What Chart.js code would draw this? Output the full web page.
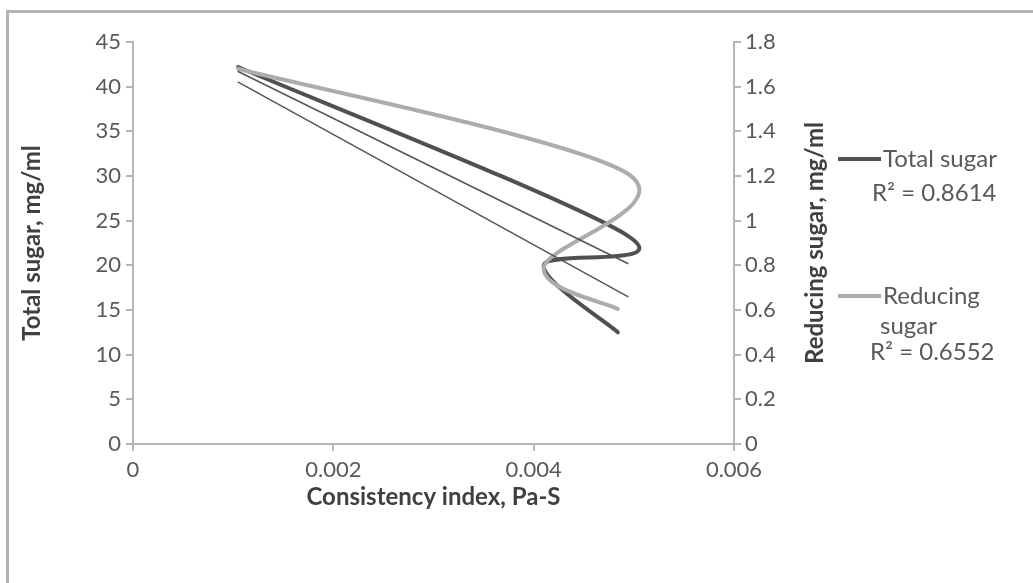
<!DOCTYPE html>
<html>
<head>
<meta charset="utf-8">
<script src="https://cdn.jsdelivr.net/npm/chart.js@4.4.1/dist/chart.umd.min.js"></script>
<style>
  body { margin: 0; background: #fff; }
  #wrap { position: relative; width: 1033px; height: 583px; overflow: hidden; }
  #frame { position: absolute; left: 6px; top: 10px; right: -10px; bottom: -10px;
           border-left: 3px solid #b4b4b4; border-top: 3px solid #b4b4b4; }
  canvas { position: absolute; left: 0; top: 0; }
</style>
</head>
<body>
<div id="wrap">
  <div id="frame"></div>
  <canvas id="myChart" width="1033" height="583"></canvas>
</div>
<script>
Chart.defaults.font.family = 'Lato';
Chart.defaults.font.size = 22;
Chart.defaults.color = '#595959';

// consistency index (x) for both series
const csiIndex = [0.00105, 0.00494, 0.0041, 0.00484];
const totalSugar = [42.2, 23.3, 20.0, 12.5];
const reducingSugar = [1.68, 1.21, 0.79, 0.605];

// linear trendlines, read at both ends
const trendX = [0.00105, 0.00494];
const totalTrend = [40.5, 16.5];
const reducingTrend = [1.668, 0.808];

const seriesNames = ['Total sugar', 'Reducing sugar'];
const rSquared = ['0.8614', '0.6552'];
const rightTitle = 'Reducing sugar, mg/ml';

const xTicks = [0, 0.002, 0.004, 0.006];
const yTicks = [0, 5, 10, 15, 20, 25, 30, 35, 40, 45];
const y1Ticks = [0, 0.2, 0.4, 0.6, 0.8, 1, 1.2, 1.4, 1.6, 1.8];

const darkGrey = '#505050';
const lightGrey = '#acacac';
const axisGrey = '#b5b5b5';

const pts = (xs, ys) => xs.map((x, i) => ({x: x, y: ys[i]}));

// excel style smoothing: control arms = (next - prev) / 6
const excelSmooth = {
  id: 'excelSmooth',
  beforeDatasetDraw(chart, args) {
    const ds = chart.data.datasets[args.index];
    if (!ds.smoothExcel) return;
    const meta = args.meta;
    meta.dataset.updateControlPoints(chart.chartArea, meta.iScale.axis);
    const p = meta.data;
    for (let i = 0; i < p.length; i++) {
      const prev = p[Math.max(i - 1, 0)];
      const next = p[Math.min(i + 1, p.length - 1)];
      const dx = (next.x - prev.x) / 6;
      const dy = (next.y - prev.y) / 6;
      p[i].cp1x = p[i].x - dx; p[i].cp1y = p[i].y - dy;
      p[i].cp2x = p[i].x + dx; p[i].cp2y = p[i].y + dy;
    }
    meta.dataset._path = undefined;
  }
};

const sideLegend = {
  id: 'sideLegend',
  afterDraw(chart) {
    const ctx = chart.ctx;
    ctx.save();
    // right axis title, reading upwards like the left one
    ctx.font = 'bold 24px Lato';
    ctx.fillStyle = '#404040';
    ctx.textAlign = 'center';
    ctx.textBaseline = 'middle';
    ctx.translate(815, (chart.chartArea.top + chart.chartArea.bottom) / 2);
    ctx.rotate(-Math.PI / 2);
    ctx.fillText(rightTitle, 0, 0);
    ctx.restore();

    ctx.save();
    ctx.font = '24px Lato';
    ctx.fillStyle = '#595959';
    ctx.textBaseline = 'middle';
    ctx.lineWidth = 4;

    ctx.strokeStyle = darkGrey;
    ctx.beginPath(); ctx.moveTo(838, 159); ctx.lineTo(881, 159); ctx.stroke();
    ctx.fillText(seriesNames[0], 883, 159);
    ctx.fillText('R² = ' + rSquared[0], 872, 193);

    ctx.strokeStyle = lightGrey;
    ctx.beginPath(); ctx.moveTo(838, 296); ctx.lineTo(881, 296); ctx.stroke();
    const words = seriesNames[1].split(' ');
    ctx.fillText(words[0], 883, 296);
    ctx.fillText(words[1], 880, 326);
    ctx.fillText('R² = ' + rSquared[1], 870, 352);
    ctx.restore();
  }
};

const tickSet = arr => scale => { scale.ticks = arr.map(v => ({value: v})); };

const data = {
  datasets: [{
    label: seriesNames[0],
    data: pts(csiIndex, totalSugar),
    yAxisID: 'y',
    borderColor: darkGrey,
    borderWidth: 4,
    tension: 0.3,
    smoothExcel: true,
    order: 3
  }, {
    label: seriesNames[1],
    data: pts(csiIndex, reducingSugar),
    yAxisID: 'y1',
    borderColor: lightGrey,
    borderWidth: 4,
    tension: 0.3,
    smoothExcel: true,
    order: 2
  }, {
    label: 'Linear (Total sugar)',
    data: pts(trendX, totalTrend),
    yAxisID: 'y',
    borderColor: '#555555',
    borderWidth: 1.5,
    order: 1
  }, {
    label: 'Linear (Reducing sugar)',
    data: pts(trendX, reducingTrend),
    yAxisID: 'y1',
    borderColor: '#555555',
    borderWidth: 1.5,
    order: 0
  }]
};

const gridOpts = {
  display: true,
  drawOnChartArea: false,
  drawTicks: true,
  tickLength: 7,
  color: axisGrey,
  lineWidth: 2
};

const config = {
  type: 'line',
  data: data,
  plugins: [excelSmooth, sideLegend],
  options: {
    responsive: false,
    animation: false,
    layout: {
      padding: {left: 14, right: 198, top: 42, bottom: 58}
    },
    elements: {
      point: {radius: 0, hoverRadius: 0},
      line: {fill: false, borderCapStyle: 'round', borderJoinStyle: 'round'}
    },
    plugins: {
      legend: {display: false},
      tooltip: {enabled: false}
    },
    scales: {
      x: {
        type: 'linear',
        min: 0,
        max: 0.006,
        afterBuildTicks: tickSet(xTicks),
        afterFit: s => { s.height = 81; },
        ticks: {padding: 6, maxRotation: 0, callback: v => String(v)},
        grid: gridOpts,
        border: {display: true, color: axisGrey, width: 2},
        title: {display: true, text: 'Consistency index, Pa-S', color: '#404040',
                font: {weight: 'bold', size: 24}, padding: {top: 0, bottom: 13}}
      },
      y: {
        position: 'left',
        min: 0,
        max: 45,
        afterBuildTicks: tickSet(yTicks),
        afterFit: s => { s.width = 119; },
        ticks: {padding: 5},
        grid: gridOpts,
        border: {display: true, color: axisGrey, width: 2},
        title: {display: true, text: 'Total sugar, mg/ml', color: '#404040',
                font: {weight: 'bold', size: 24}, padding: {top: 4, bottom: 0}}
      },
      y1: {
        position: 'right',
        min: 0,
        max: 1.8,
        afterBuildTicks: tickSet(y1Ticks),
        afterFit: s => { s.width = 101; },
        ticks: {padding: 4, callback: v => String(v)},
        grid: gridOpts,
        border: {display: true, color: axisGrey, width: 2},
        title: {display: false}
      }
    }
  }
};

const myChart = new Chart(document.getElementById('myChart'), config);
</script>
</body>
</html>
